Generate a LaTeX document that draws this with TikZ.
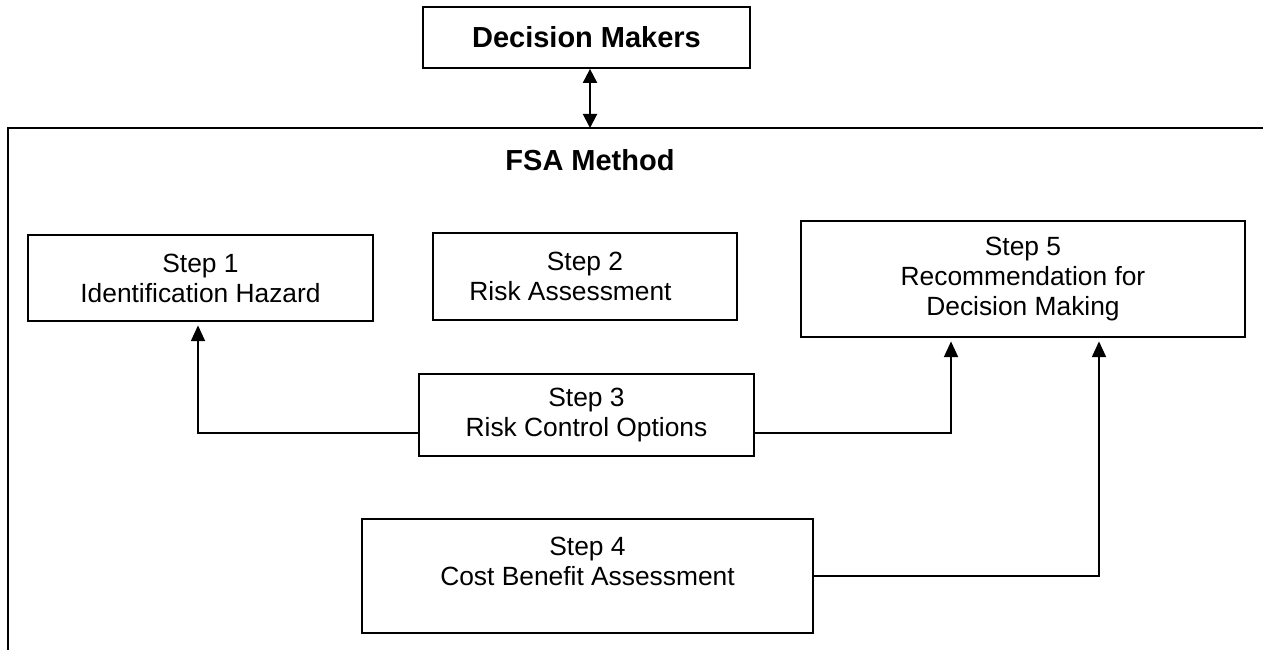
\documentclass[tikz,border=0pt]{standalone}
\usepackage{fontspec}
\setmainfont{Liberation Sans}
\usetikzlibrary{arrows.meta,positioning,calc}

\begin{document}
\begin{tikzpicture}[x=0.02cm,y=-0.02cm,
  stepbox/.style={draw,line width=1pt,inner sep=0pt,align=center,
    font=\fontsize{15}{17.1}\selectfont},
  title/.style={font=\fontsize{16.5}{19}\selectfont\bfseries},
  flow/.style={line width=1.1pt,shorten >=2pt,
    -{Triangle[length=9pt,width=8pt]}},
  dflow/.style={line width=1.1pt,
    {Triangle[length=8pt,width=8pt]}-{Triangle[length=8pt,width=8pt]}}]
\useasboundingbox (0,0) rectangle (1263,650);

% Decision makers on top
\node[stepbox,title,minimum width=6.54cm,minimum height=1.22cm]
  (dm) at (586.5,37.5) {Decision Makers};

% FSA frame, open to the right and bottom
\draw[line width=1pt] (1263,128) -- (8,128) -- (8,650);
\coordinate (ftop) at (590,128);
\node[title] (fsa) at (590,160) {FSA Method};

% Steps
\node[stepbox,minimum width=6.9cm,minimum height=1.72cm]
  (s1) at (200.5,278) {Step 1\\Identification Hazard};
\node[stepbox,minimum width=6.08cm,minimum height=1.74cm]
  (s2) at (585,276.5) {Step 2\\Risk Assessment\hspace{0.58cm}\mbox{}};
\node[stepbox,minimum width=6.7cm,minimum height=1.64cm]
  (s3) at (586.5,415) {Step 3\\Risk Control Options};
\node[stepbox,minimum width=9.02cm,minimum height=2.28cm]
  (s4) at (587.5,576) {Step 4\\Cost Benefit Assessment\\\mbox{}};
\node[stepbox,minimum width=8.88cm,minimum height=2.32cm]
  (s5) at (1023,279) {Step 5\\Recommendation for\\Decision Making};

% Connectors
\draw[dflow] (dm.south -| ftop) -- (ftop);
\draw[flow] ([yshift=-0.36cm]s3.west) -| ([xshift=-0.05cm]s1.south);
\draw[flow] ([yshift=-0.36cm]s3.east) -| ([xshift=-1.44cm]s5.south);
\draw[flow] (s4.east) -| ([xshift=1.52cm]s5.south);
\end{tikzpicture}
\end{document}
